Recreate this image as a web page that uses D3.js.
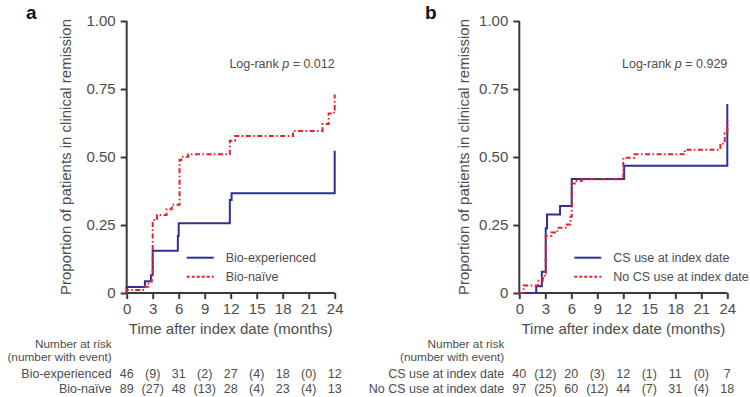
<!DOCTYPE html>
<html>
<head>
<meta charset="utf-8">
<script src="https://cdn.jsdelivr.net/npm/d3@7"></script>
<style>
  body { margin: 0; background: #fff; }
  svg { font-family: "Liberation Sans", Arial, sans-serif; }
</style>
</head>
<body>
<div id="chart"></div>
<script>
var W = 750, H = 397;

// x ticks and y ticks
var xTicks = [0, 3, 6, 9, 12, 15, 18, 21, 24];
var yTicks = [0, 0.25, 0.5, 0.75, 1];
var yTickLabels = ["0", "0.25", "0.50", "0.75", "1.00"];

// Panel a: step curves [month, cumulative proportion]
var bioExperienced = [[0, 0], [0, 0.022], [2.1, 0.043], [2.8, 0.065], [3, 0.155], [5.9, 0.21],
    [6, 0.256], [11.9, 0.342], [12.1, 0.367], [24, 0.523]];
var bioNaive = [[0, 0], [0, 0.011], [1.9, 0.023], [2.5, 0.042], [2.9, 0.066], [3, 0.268],
    [3.5, 0.287], [4.6, 0.308], [5.2, 0.324], [6.1, 0.489], [6.3, 0.501], [7.1, 0.51],
    [11.9, 0.56], [12.5, 0.577], [19.2, 0.596], [22.6, 0.621], [23.3, 0.66], [23.9, 0.673], [24, 0.73]];

// Panel b
var csUse = [[0, 0], [1.95, 0.025], [2.6, 0.078], [3.05, 0.238], [3.2, 0.289], [4.7, 0.32],
    [6.05, 0.419], [12.1, 0.468], [24, 0.695]];
var noCsUse = [[0, 0], [0.5, 0.028], [2.2, 0.045], [2.7, 0.054], [2.95, 0.072], [3.05, 0.21],
    [3.7, 0.222], [4.4, 0.24], [5.5, 0.252], [5.9, 0.28], [6.05, 0.403], [6.4, 0.412], [7.2, 0.418],
    [12, 0.497], [13.3, 0.51], [19.1, 0.527], [23.2, 0.55], [23.7, 0.587], [24, 0.636]];

// Number at risk tables (at risk at 0,6,12,18,24, events in brackets between)
var riskA = [
  ["Bio-experienced", ["46", "(9)", "31", "(2)", "27", "(4)", "18", "(0)", "12"]],
  ["Bio-naïve", ["89", "(27)", "48", "(13)", "28", "(4)", "23", "(4)", "13"]]
];
var riskB = [
  ["CS use at index date", ["40", "(12)", "20", "(3)", "12", "(1)", "11", "(0)", "7"]],
  ["No CS use at index date", ["97", "(25)", "60", "(12)", "44", "(7)", "31", "(4)", "18"]]
];

var blue = "#2e3192", red = "#e3222b", axisCol = "#3a3a3a", textCol = "#4d4d4d";

var svg = d3.select("#chart").append("svg").attr("width", W).attr("height", H);

var panels = [
  { label: "a", left: 126.7, labelX: 26, ytitleX: 65, p: "0.012",
    series: [bioExperienced, bioNaive], names: ["Bio-experienced", "Bio-naïve"], risk: riskA },
  { label: "b", left: 519.3, labelX: 425, ytitleX: 463, p: "0.929",
    series: [csUse, noCsUse], names: ["CS use at index date", "No CS use at index date"], risk: riskB }
];

panels.forEach(function (pn) {
  var x = d3.scaleLinear().domain([0, 24]).range([pn.left, pn.left + 208]);
  var y = d3.scaleLinear().domain([0, 1]).range([293, 21]);
  var g = svg.append("g");

  // panel letter
  g.append("text").attr("x", pn.labelX).attr("y", 18.5)
    .attr("font-size", 19).attr("font-weight", "bold").attr("fill", "#111").text(pn.label);

  // y axis
  var yAxis = g.append("g").attr("transform", "translate(" + pn.left + ",0)")
    .call(d3.axisLeft(y).tickValues(yTicks).tickSize(6).tickPadding(5)
      .tickFormat(function (d, i) { return yTickLabels[i]; }));
  // x axis
  var xAxis = g.append("g").attr("transform", "translate(0,293)")
    .call(d3.axisBottom(x).tickValues(xTicks).tickSize(6).tickPadding(4));
  [yAxis, xAxis].forEach(function (ax) {
    ax.select(".domain").attr("stroke", axisCol).attr("stroke-width", 2);
    ax.selectAll(".tick line").attr("stroke", axisCol).attr("stroke-width", 2);
    ax.selectAll(".tick text").attr("fill", textCol).attr("font-size", 15)
      .attr("font-family", "Liberation Sans, Arial, sans-serif");
  });
  yAxis.select(".domain").attr("d", "M-0,21V293");
  xAxis.select(".domain").attr("d", "M" + pn.left + ",0H" + (pn.left + 208));

  // axis titles
  g.append("text").attr("transform", "translate(" + pn.ytitleX + ",157) rotate(-90)")
    .attr("text-anchor", "middle").attr("dominant-baseline", "central")
    .attr("font-size", 15).attr("fill", textCol)
    .text("Proportion of patients in clinical remission");
  g.append("text").attr("x", pn.left + 104).attr("y", 334).attr("text-anchor", "middle")
    .attr("font-size", 15).attr("fill", textCol).text("Time after index date (months)");

  // log-rank
  var lr = g.append("text").attr("x", pn.left + 208).attr("y", 68).attr("text-anchor", "end")
    .attr("font-size", 12.5).attr("fill", textCol);
  lr.append("tspan").text("Log-rank ");
  lr.append("tspan").attr("font-style", "italic").text("p");
  lr.append("tspan").text(" = " + pn.p);

  // curves
  var line = d3.line().x(function (d) { return x(d[0]); }).y(function (d) { return y(d[1]); })
    .curve(d3.curveStepAfter);
  g.append("path").datum(pn.series[0]).attr("d", line).attr("fill", "none")
    .attr("stroke", blue).attr("stroke-width", 2);
  g.append("path").datum(pn.series[1]).attr("d", line).attr("fill", "none")
    .attr("stroke", red).attr("stroke-width", 2).attr("stroke-dasharray", "5,2.5,1.5,2.5");

  // legend
  var lx = pn.left + (pn.label === "a" ? 60 : 55);
  [[blue, null, 257.7], [red, "3,2", 276.7]].forEach(function (s, i) {
    g.append("line").attr("x1", lx).attr("x2", lx + 27).attr("y1", s[2]).attr("y2", s[2])
      .attr("stroke", s[0]).attr("stroke-width", 2).attr("stroke-dasharray", s[1]);
    g.append("text").attr("x", lx + 39).attr("y", s[2] + 4.5).attr("font-size", 12.5)
      .attr("fill", textCol).text(pn.names[i]);
  });

  // number at risk
  var rx = pn.left - 15;
  g.append("text").attr("x", rx).attr("y", 347.5).attr("text-anchor", "end")
    .attr("font-size", 11.8).attr("fill", textCol).text("Number at risk");
  g.append("text").attr("x", rx).attr("y", 361).attr("text-anchor", "end")
    .attr("font-size", 11.8).attr("fill", textCol).text("(number with event)");
  pn.risk.forEach(function (row, ri) {
    var yy = ri === 0 ? 378 : 392.5;
    g.append("text").attr("x", rx).attr("y", yy).attr("text-anchor", "end")
      .attr("font-size", 12.5).attr("fill", textCol).text(row[0]);
    g.selectAll(null).data(row[1]).enter().append("text")
      .attr("x", function (d, i) { return x(xTicks[i]); }).attr("y", yy)
      .attr("text-anchor", "middle").attr("font-size", 12.5).attr("fill", textCol)
      .text(function (d) { return d; });
  });
});
</script>
</body>
</html>
